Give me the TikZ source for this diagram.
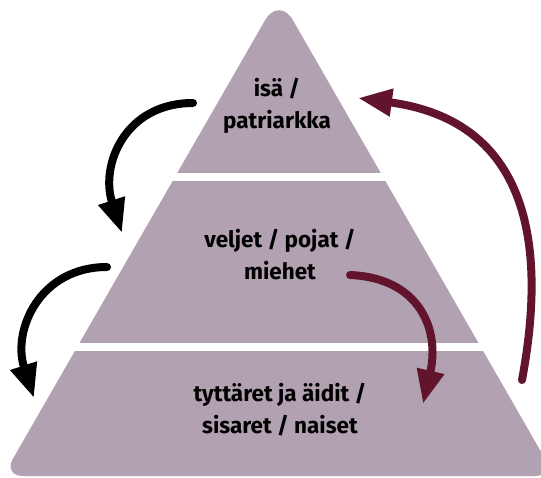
\documentclass[tikz,border=0pt]{standalone}
\usepackage{fontspec}
\setmainfont{Fira Sans}
\usetikzlibrary{arrows.meta}
\definecolor{mauve}{HTML}{B2A1B1}
\definecolor{wine}{HTML}{62142C}
\begin{document}
\begin{tikzpicture}[x=1pt,y=-1pt,
  tier/.style={font=\bfseries\fontsize{22.5}{32}\selectfont,align=center,text=black},
  flow/.style={line width=8pt,line cap=round,-{Triangle[length=34pt,width=26pt]}}]
\useasboundingbox (0,0) rectangle (541,478);
\clip (0,0) rectangle (541,478);
% pyramid with white gaps
\fill[mauve] (279,476) [rounded corners=20pt] -- (3,476) [rounded corners=28pt] -- (279,-4) [rounded corners=20pt] -- (555,476) -- cycle;
\draw[white,line width=7.5pt] (0,177) -- (541,177) (0,347) -- (541,347);
% tiers
\node[tier] (father) at (277,106) {isä /\\patriarkka};
\node[tier] (sons) at (280,255) {veljet / pojat /\\miehet};
\node[tier] (daughters) at (280,410) {tyttäret ja äidit /\\sisaret / naiset};
% ends of the arrows
\coordinate (f-out) at (193,103);
\coordinate (s-in) at (122,233);
\coordinate (s-out) at (107,267);
\coordinate (d-in) at (34,398);
\coordinate (m-out) at (350,275);
\coordinate (m-in) at (423,404);
\coordinate (up-out) at (522,380);
\coordinate (up-in) at (358,98);
\draw[flow] (f-out) .. controls +(-68,0) and +(-22,-68) .. (s-in);
\draw[flow] (s-out) .. controls +(-67,0) and +(-22,-68) .. (d-in);
\draw[flow,wine] (m-out) .. controls +(70,3) and +(17,-74) .. (m-in);
\draw[flow,wine] (up-out) .. controls +(28,-150) and +(162,22) .. (up-in);
\end{tikzpicture}
\end{document}
